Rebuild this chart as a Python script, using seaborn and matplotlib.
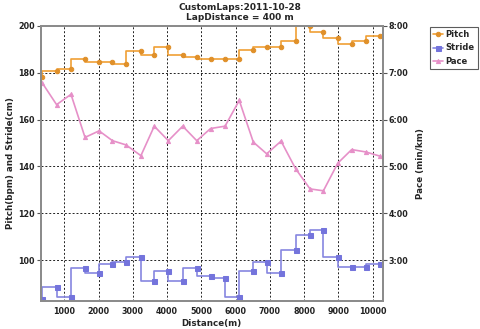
import matplotlib
matplotlib.use("Agg")
import matplotlib.pyplot as plt
from matplotlib.ticker import FuncFormatter, FixedLocator
import seaborn as sns
import pandas as pd

# Lap end positions (m)
distance = [360, 775, 1195, 1605, 2015, 2405, 2800, 3235, 3625, 4035,
            4455, 4865, 5270, 5690, 6105, 6515, 6905, 7325, 7750, 8170,
            8560, 8980, 9385, 9795, 10210]
# Cadence (steps per minute)
pitch = [178.2, 180.9, 181.7, 185.7, 184.7, 184.7, 183.8, 189.5, 187.8, 190.9,
         187.8, 186.7, 185.8, 185.8, 185.8, 189.7, 190.9, 190.9, 193.7, 200.0,
         197.4, 194.8, 192.3, 193.7, 195.7]
# Stride length (cm)
stride = [83.2, 88.3, 84.4, 96.4, 94.3, 98.3, 99.1, 101.3, 91.2, 95.4,
          91.2, 96.4, 93.3, 92.2, 84.3, 95.3, 99.3, 94.3, 104.1, 110.9,
          112.7, 101.1, 97.1, 97.1, 98.2]
# Pace (min/km, decimal minutes)
pace = [6.78, 6.32, 6.54, 5.62, 5.76, 5.55, 5.46, 5.23, 5.86, 5.55,
        5.86, 5.55, 5.81, 5.86, 6.41, 5.52, 5.27, 5.54, 4.95, 4.52,
        4.48, 5.07, 5.36, 5.31, 5.22]

x_ticks = [1000, 2000, 3000, 4000, 5000, 6000, 7000, 8000, 9000, 10000]
left_ticks = [100, 120, 140, 160, 180, 200]
pace_ticks = [3, 4, 5, 6, 7, 8]

df = pd.DataFrame({"distance": distance, "pitch": pitch,
                   "stride": stride, "pace": pace})

sns.set_style("white")
plt.rcParams["font.family"] = ["DejaVu Sans"]
plt.rcParams["font.weight"] = "bold"

c_pitch = "#f0a035"
c_pitch_m = "#e0902a"
c_stride = "#8686e0"
c_stride_m = "#7474dc"
c_pace = "#e690c8"

fig = plt.figure(figsize=(4.8, 3.29), dpi=100)
ax = fig.add_axes([0.0854, 0.085, 0.7115, 0.836])
ax2 = ax.twinx()

sns.lineplot(data=df, x="distance", y="pitch", ax=ax, color=c_pitch,
             drawstyle="steps-pre", marker="o", markersize=3.2,
             markerfacecolor=c_pitch_m, markeredgecolor=c_pitch_m,
             linewidth=1.2, label="Pitch", legend=False)
sns.lineplot(data=df, x="distance", y="stride", ax=ax, color=c_stride,
             drawstyle="steps-pre", marker="s", markersize=3.6,
             markerfacecolor=c_stride_m, markeredgecolor=c_stride_m,
             linewidth=1.2, label="Stride", legend=False)
sns.lineplot(data=df, x="distance", y="pace", ax=ax2, color=c_pace,
             marker="^", markersize=3.0, markerfacecolor=c_pace,
             markeredgecolor=c_pace, linewidth=1.2, label="Pace",
             legend=False)

y_lo, y_hi = 82.5, 200
ax.set_ylim(y_lo, y_hi)
ax2.set_ylim(3 + (y_lo - 100) / 20, 3 + (y_hi - 100) / 20)
ax.set_xlim(320, 10285)

ax.xaxis.set_major_locator(FixedLocator(x_ticks))
ax.yaxis.set_major_locator(FixedLocator(left_ticks))
ax2.yaxis.set_major_locator(FixedLocator(pace_ticks))
ax2.yaxis.set_major_formatter(FuncFormatter(lambda v, p: f"{int(v)}:00"))

ax.grid(True, color="#222222", linestyle=(0, (2, 2)), linewidth=0.7)
ax.set_axisbelow(True)

for a in (ax, ax2):
    for s in a.spines.values():
        s.set_color("#8c8c8c")
        s.set_linewidth(1.4)

ax.tick_params(axis="both", labelsize=5.8, length=3, width=0.8,
               color="#555555", pad=1.5, direction="out")
ax2.tick_params(axis="y", labelsize=5.8, length=3, width=0.8,
                color="#555555", pad=1.5, direction="out")
for lbl in ax.get_xticklabels() + ax.get_yticklabels() + ax2.get_yticklabels():
    lbl.set_fontweight("bold")
    lbl.set_color("#222222")

ax.set_xlabel("Distance(m)", fontsize=6.3, fontweight="bold", labelpad=2)
ax.set_ylabel("Pitch(bpm) and Stride(cm)", fontsize=6.3, fontweight="bold",
              labelpad=2)
ax2.set_ylabel("Pace (min/km)", fontsize=6.3, fontweight="bold", labelpad=5)

fig.text(0.5, 0.99, "CustomLaps:2011-10-28\nLapDistance = 400 m",
         ha="center", va="top", fontsize=6.5, fontweight="bold",
         linespacing=1.1)

handles = ax.get_lines()[:2] + ax2.get_lines()[:1]
leg = fig.legend(handles, ["Pitch", "Stride", "Pace"],
                 loc="upper left", bbox_to_anchor=(0.895, 0.918),
                 fontsize=6.0, frameon=True, fancybox=False,
                 handlelength=1.25, handletextpad=0.25, borderpad=0.4,
                 labelspacing=0.5, borderaxespad=0)
leg.get_frame().set_edgecolor("#333333")
leg.get_frame().set_linewidth(0.8)
for t in leg.get_texts():
    t.set_fontweight("bold")

fig.savefig("out.png", dpi=100)
